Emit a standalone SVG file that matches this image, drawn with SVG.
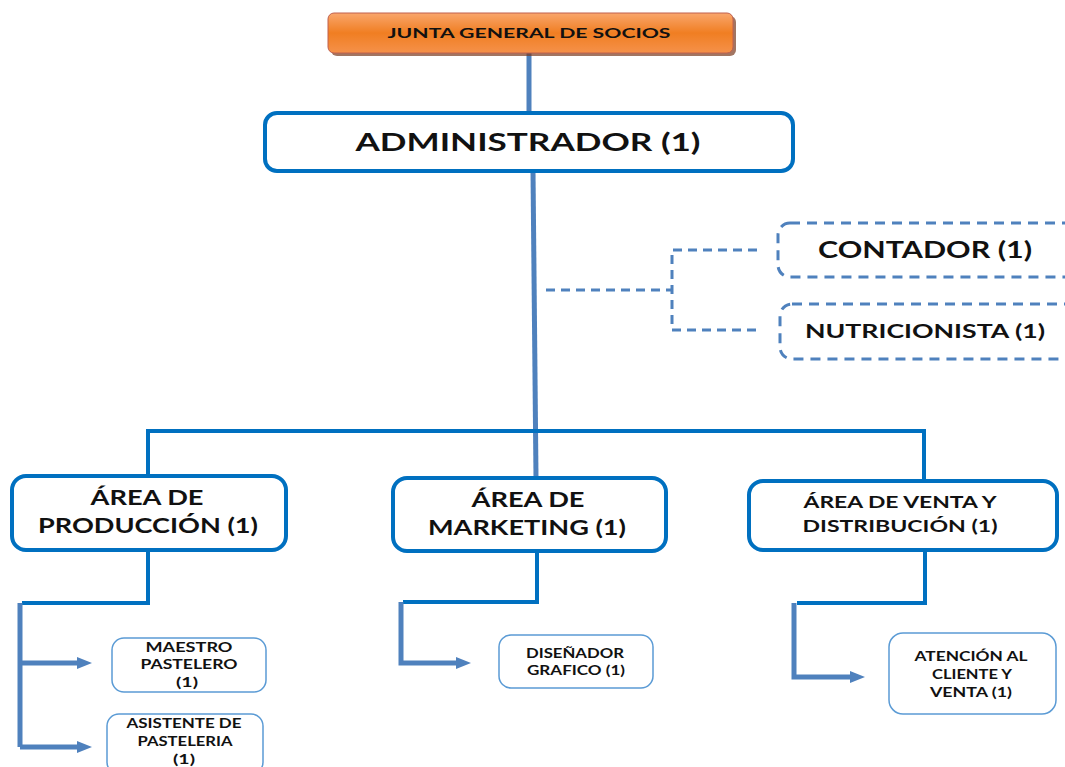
<svg xmlns="http://www.w3.org/2000/svg" width="1065" height="767" viewBox="0 0 1065 767">
<defs>
<linearGradient id="og" x1="0" y1="0" x2="0" y2="1">
<stop offset="0" stop-color="#F9A66C"/>
<stop offset="0.5" stop-color="#F07E22"/>
<stop offset="1" stop-color="#F5914A"/>
</linearGradient>
<marker id="ar" markerWidth="16" markerHeight="14" refX="1" refY="7" orient="auto" markerUnits="userSpaceOnUse">
<path d="M0,1 L15,7 L0,13 Z" fill="#4F81BD"/>
</marker>
</defs>
<style>
text{font-family:Lato,"Liberation Sans",sans-serif;font-weight:bold;fill:#111;text-anchor:middle}
.main{fill:#fff;stroke:#0070C0;stroke-width:4}
.sub{fill:#fff;stroke:#5B9BD5;stroke-width:1.5}
.dash{fill:#fff;stroke:#4F81BD;stroke-width:3;stroke-dasharray:10 7}
.c1{fill:none;stroke:#0070C0;stroke-width:4}
.c2{fill:none;stroke:#4F81BD;stroke-width:5}
.cd{fill:none;stroke:#4F81BD;stroke-width:3;stroke-dasharray:9 6}
.s{font-size:13px}
</style>
<g id="connectors">
<line class="c2" x1="529" y1="53" x2="529" y2="112"/>
<line class="c2" x1="533" y1="171" x2="536" y2="478"/>
<path class="c1" d="M148,478 V431 H924 V482"/>
<path class="cd" d="M546,290 H672 M757,250 H672 V330 H757"/>
<path class="c1" d="M148,550 V603 H22"/>
<path class="c2" d="M20,603 V747"/>
<line class="c2" x1="20" y1="663" x2="78" y2="663" marker-end="url(#ar)"/>
<line class="c2" x1="20" y1="747" x2="78" y2="747" marker-end="url(#ar)"/>
<path class="c1" d="M537,551 V602 H403"/>
<path class="c2" d="M401,602 V663 H457" marker-end="url(#ar)"/>
<path class="c1" d="M925,550 V603 H797"/>
<path class="c2" d="M794,603 V677 H851" marker-end="url(#ar)"/>
</g>
<g id="junta">
<rect x="331" y="16" width="405" height="40" rx="6" fill="#7a3a20" opacity="0.7"/>
<rect x="328" y="13" width="405" height="40" rx="6" fill="url(#og)" stroke="#C0604D" stroke-width="1"/>
<text x="529" y="38" font-size="14" textLength="283" lengthAdjust="spacingAndGlyphs">JUNTA GENERAL DE SOCIOS</text>
</g>
<g id="administrador">
<rect class="main" x="265" y="113" width="528" height="58" rx="12"/>
<text x="528" y="151" font-size="25" textLength="345" lengthAdjust="spacingAndGlyphs">ADMINISTRADOR (1)</text>
</g>
<g id="contador">
<rect class="dash" x="778" y="223" width="310" height="54" rx="12"/>
<text x="925" y="258" font-size="23" textLength="214" lengthAdjust="spacingAndGlyphs">CONTADOR (1)</text>
</g>
<g id="nutricionista">
<rect class="dash" x="780" y="304" width="310" height="55" rx="12"/>
<text x="925" y="338" font-size="19" textLength="240" lengthAdjust="spacingAndGlyphs">NUTRICIONISTA (1)</text>
</g>
<g id="produccion">
<rect class="main" x="12" y="476" width="274" height="74" rx="14"/>
<text x="147" y="505" font-size="20" textLength="113" lengthAdjust="spacingAndGlyphs">ÁREA DE</text>
<text x="148" y="533" font-size="20" textLength="220" lengthAdjust="spacingAndGlyphs">PRODUCCIÓN (1)</text>
</g>
<g id="marketing">
<rect class="main" x="393" y="478" width="273" height="73" rx="14"/>
<text x="528" y="507" font-size="20" textLength="113" lengthAdjust="spacingAndGlyphs">ÁREA DE</text>
<text x="527" y="535" font-size="20" textLength="198" lengthAdjust="spacingAndGlyphs">MARKETING (1)</text>
</g>
<g id="venta">
<rect class="main" x="749" y="481" width="308" height="69" rx="14"/>
<text x="900" y="508" font-size="17" textLength="193" lengthAdjust="spacingAndGlyphs">ÁREA DE VENTA Y</text>
<text x="900" y="532" font-size="17" textLength="195" lengthAdjust="spacingAndGlyphs">DISTRIBUCIÓN (1)</text>
</g>
<g id="maestro">
<rect class="sub" x="112" y="638" width="154" height="54" rx="12"/>
<text class="s" x="189" y="652" textLength="87" lengthAdjust="spacingAndGlyphs">MAESTRO</text>
<text class="s" x="189" y="669" textLength="97" lengthAdjust="spacingAndGlyphs">PASTELERO</text>
<text class="s" x="187" y="687" textLength="22" lengthAdjust="spacingAndGlyphs">(1)</text>
</g>
<g id="asistente">
<rect class="sub" x="107" y="714" width="156" height="60" rx="12"/>
<text class="s" x="184" y="728" textLength="115" lengthAdjust="spacingAndGlyphs">ASISTENTE DE</text>
<text class="s" x="185" y="746" textLength="95" lengthAdjust="spacingAndGlyphs">PASTELERIA</text>
<text class="s" x="184" y="764" textLength="22" lengthAdjust="spacingAndGlyphs">(1)</text>
</g>
<g id="disenador">
<rect class="sub" x="499" y="635" width="154" height="53" rx="12"/>
<text class="s" x="575" y="658" textLength="98" lengthAdjust="spacingAndGlyphs">DISEÑADOR</text>
<text class="s" x="576" y="675" textLength="98" lengthAdjust="spacingAndGlyphs">GRAFICO (1)</text>
</g>
<g id="atencion">
<rect class="sub" x="889" y="633" width="167" height="81" rx="14"/>
<text class="s" x="971" y="661" textLength="113" lengthAdjust="spacingAndGlyphs">ATENCIÓN AL</text>
<text class="s" x="972" y="679" textLength="80" lengthAdjust="spacingAndGlyphs">CLIENTE Y</text>
<text class="s" x="971" y="697" textLength="82" lengthAdjust="spacingAndGlyphs">VENTA (1)</text>
</g>
</svg>
